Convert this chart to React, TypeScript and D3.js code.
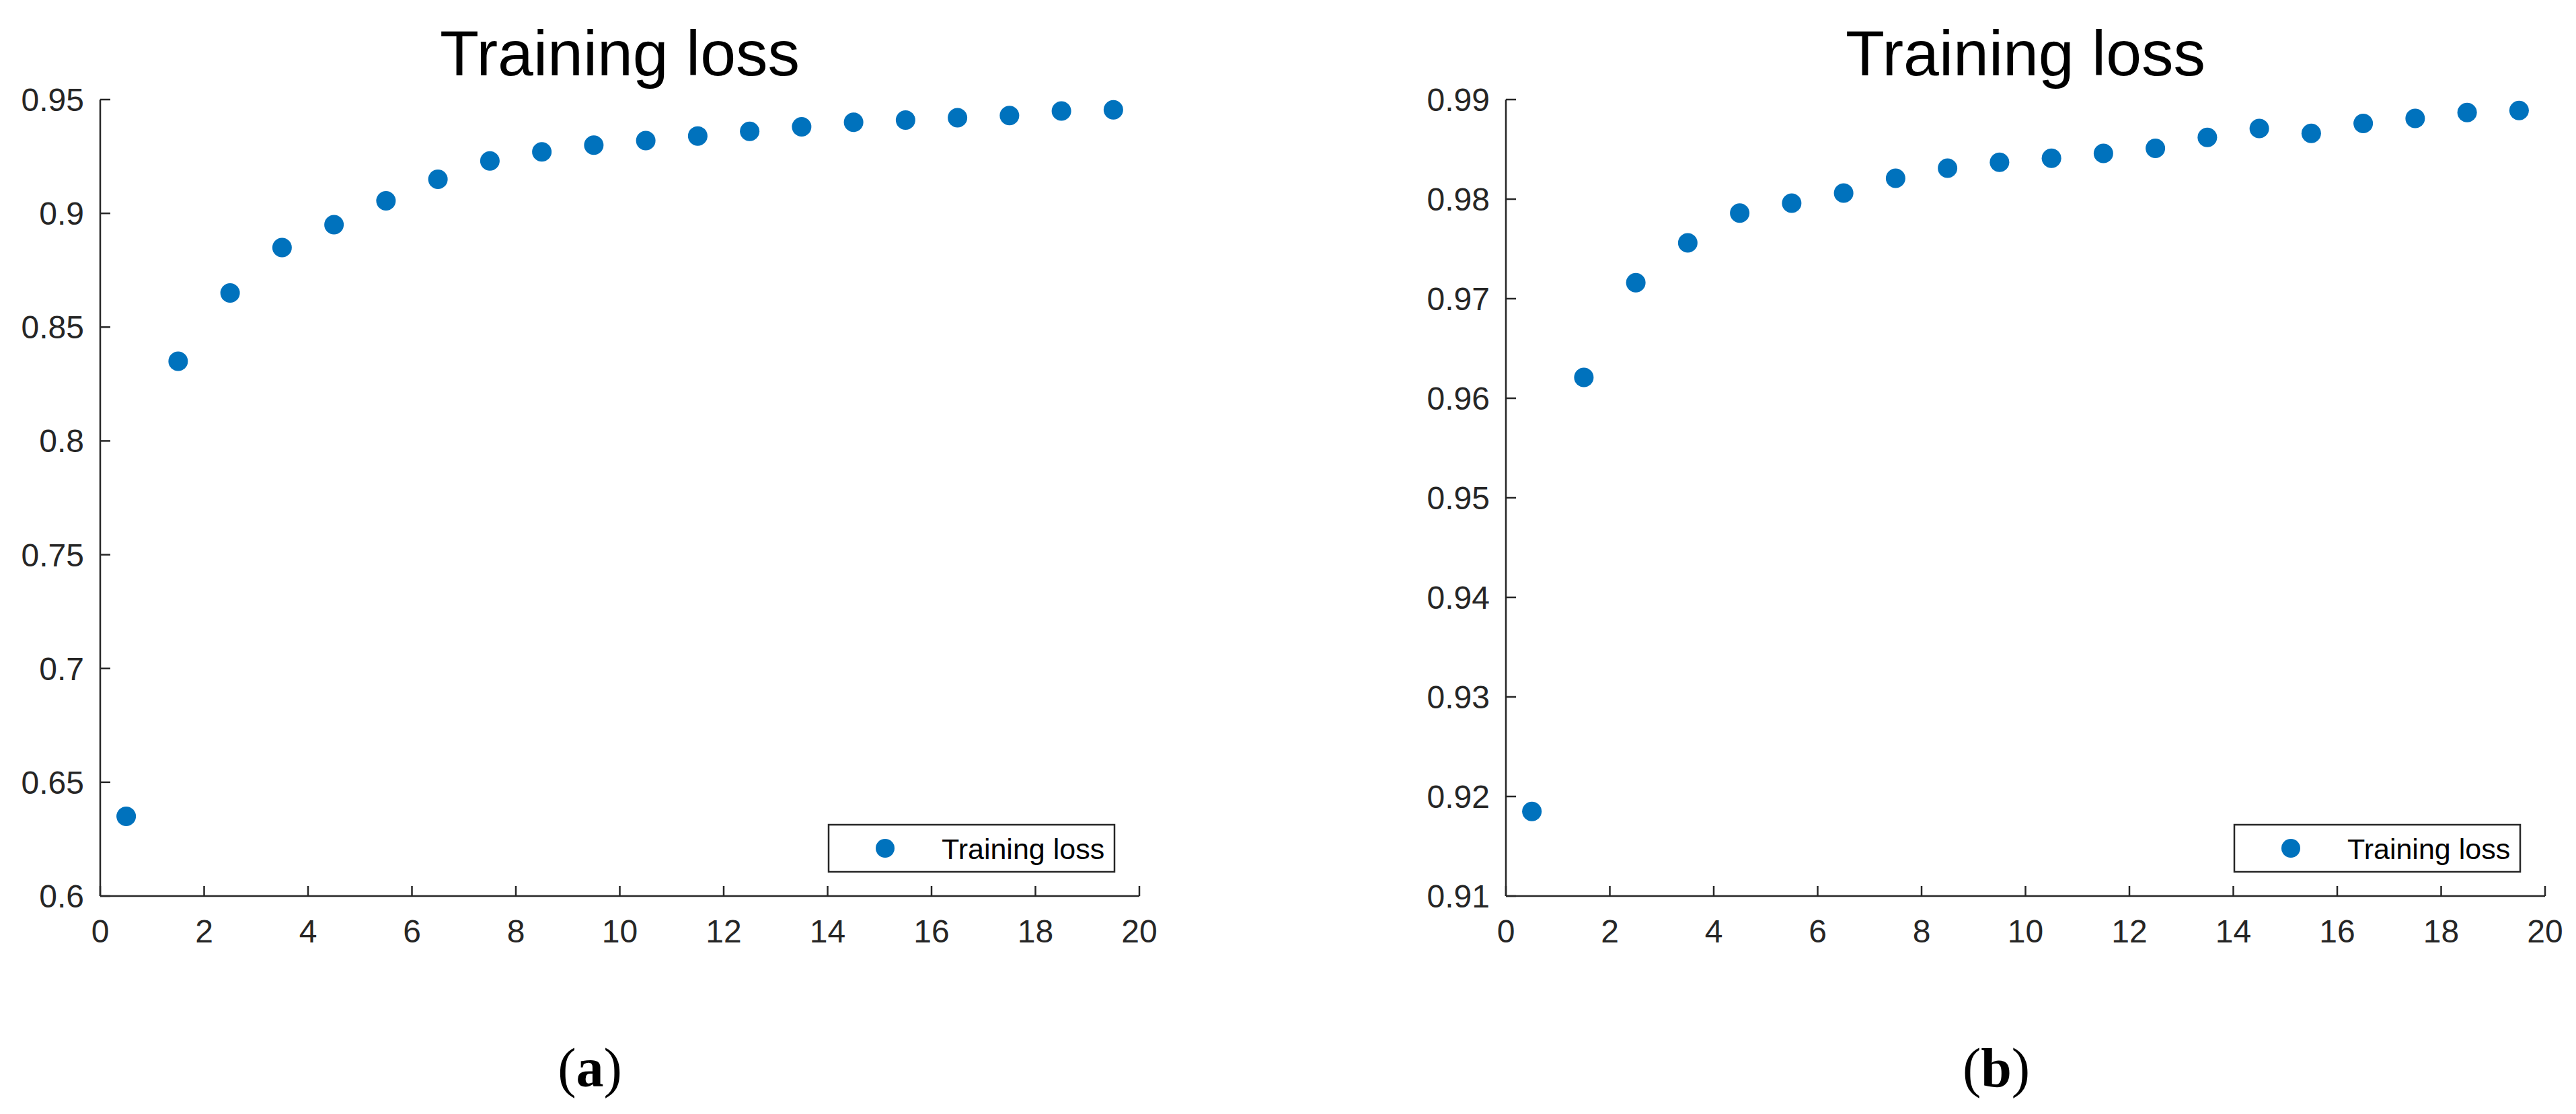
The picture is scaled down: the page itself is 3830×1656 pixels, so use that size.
import React from "react";
import * as d3 from "d3";

const epochs = [0.5, 1.5, 2.5, 3.5, 4.5, 5.5, 6.5, 7.5, 8.5, 9.5, 10.5, 11.5, 12.5, 13.5, 14.5, 15.5, 16.5, 17.5, 18.5, 19.5];
const lossA = [0.635, 0.835, 0.865, 0.885, 0.895, 0.9055, 0.915, 0.923, 0.927, 0.930, 0.932, 0.934, 0.936, 0.938, 0.940, 0.941, 0.942, 0.943, 0.945, 0.9455];
const lossB = [0.9185, 0.9621, 0.9716, 0.9756, 0.9786, 0.9796, 0.9806, 0.9821, 0.9831, 0.9837, 0.9841, 0.9846, 0.9851, 0.9862, 0.9871, 0.9866, 0.9876, 0.9881, 0.9887, 0.9889];
const xTicks = [0, 2, 4, 6, 8, 10, 12, 14, 16, 18, 20];
const yTicksA = [0.6, 0.65, 0.7, 0.75, 0.8, 0.85, 0.9, 0.95];
const yTicksB = [0.91, 0.92, 0.93, 0.94, 0.95, 0.96, 0.97, 0.98, 0.99];
const titleText = "Training loss";
const legendText = "Training loss";

const AXIS = "#262626";
const DOT = "#0072BD";
const SANS = "'Liberation Sans', Arial, Helvetica, sans-serif";
const SERIF = "'Liberation Serif', 'Times New Roman', serif";

function fmt(v: number) {
  return String(+v.toFixed(4));
}

function Panel({ x0, x1, yDomain, yTicks, values, sub, subX }: any) {
  const top = 148;
  const bottom = 1332;
  const xs = d3.scaleLinear().domain([0, 20]).range([x0, x1]);
  const ys = d3.scaleLinear().domain(yDomain).range([bottom, top]);
  const legR = x1 - 37;
  const legL = legR - 425;
  const legT = 1226;
  const legH = 70;
  return (
    <g>
      <text x={(x0 + x1) / 2} y={112} textAnchor="middle" fontFamily={SANS} fontSize={95} fill="#000">
        {titleText}
      </text>
      {values.map((v: number, i: number) => (
        <circle key={i} cx={xs(epochs[i])} cy={ys(v)} r={14.5} fill={DOT} />
      ))}
      <line x1={x0} x2={x0} y1={top} y2={bottom} stroke={AXIS} strokeWidth={2.5} />
      <line x1={x0} x2={x1} y1={bottom} y2={bottom} stroke={AXIS} strokeWidth={2.5} />
      {yTicks.map((t: number) => (
        <g key={"y" + t}>
          <line x1={x0} x2={x0 + 15} y1={ys(t)} y2={ys(t)} stroke={AXIS} strokeWidth={2.5} />
          <text x={x0 - 24} y={ys(t) + 17} textAnchor="end" fontFamily={SANS} fontSize={48} fill={AXIS}>
            {fmt(t)}
          </text>
        </g>
      ))}
      {xTicks.map((t: number) => (
        <g key={"x" + t}>
          <line x1={xs(t)} x2={xs(t)} y1={bottom} y2={bottom - 15} stroke={AXIS} strokeWidth={2.5} />
          <text x={xs(t)} y={1401} textAnchor="middle" fontFamily={SANS} fontSize={48} fill={AXIS}>
            {fmt(t)}
          </text>
        </g>
      ))}
      <rect x={legL} y={legT} width={425} height={legH} fill="#fff" stroke={AXIS} strokeWidth={2.5} />
      <circle cx={legL + 84} cy={legT + 35} r={14} fill={DOT} />
      <text x={legL + 168} y={legT + 51} fontFamily={SANS} fontSize={43} fill="#000">
        {legendText}
      </text>
      <text x={subX} y={1615} textAnchor="middle" fontFamily={SERIF} fontSize={82} fill="#000">
        (<tspan fontWeight="bold">{sub}</tspan>)
      </text>
    </g>
  );
}

export default function App() {
  return (
    <svg
      width={3830}
      height={1656}
      viewBox="0 0 3830 1656"
      style={{ position: "absolute", left: 0, top: 0, background: "#fff", display: "block" }}
    >
      <rect x={0} y={0} width={3830} height={1656} fill="#fff" />
      <Panel x0={149} x1={1694} yDomain={[0.6, 0.95]} yTicks={yTicksA} values={lossA} sub="a" subX={877} />
      <Panel x0={2239} x1={3784} yDomain={[0.91, 0.99]} yTicks={yTicksB} values={lossB} sub="b" subX={2968} />
    </svg>
  );
}
